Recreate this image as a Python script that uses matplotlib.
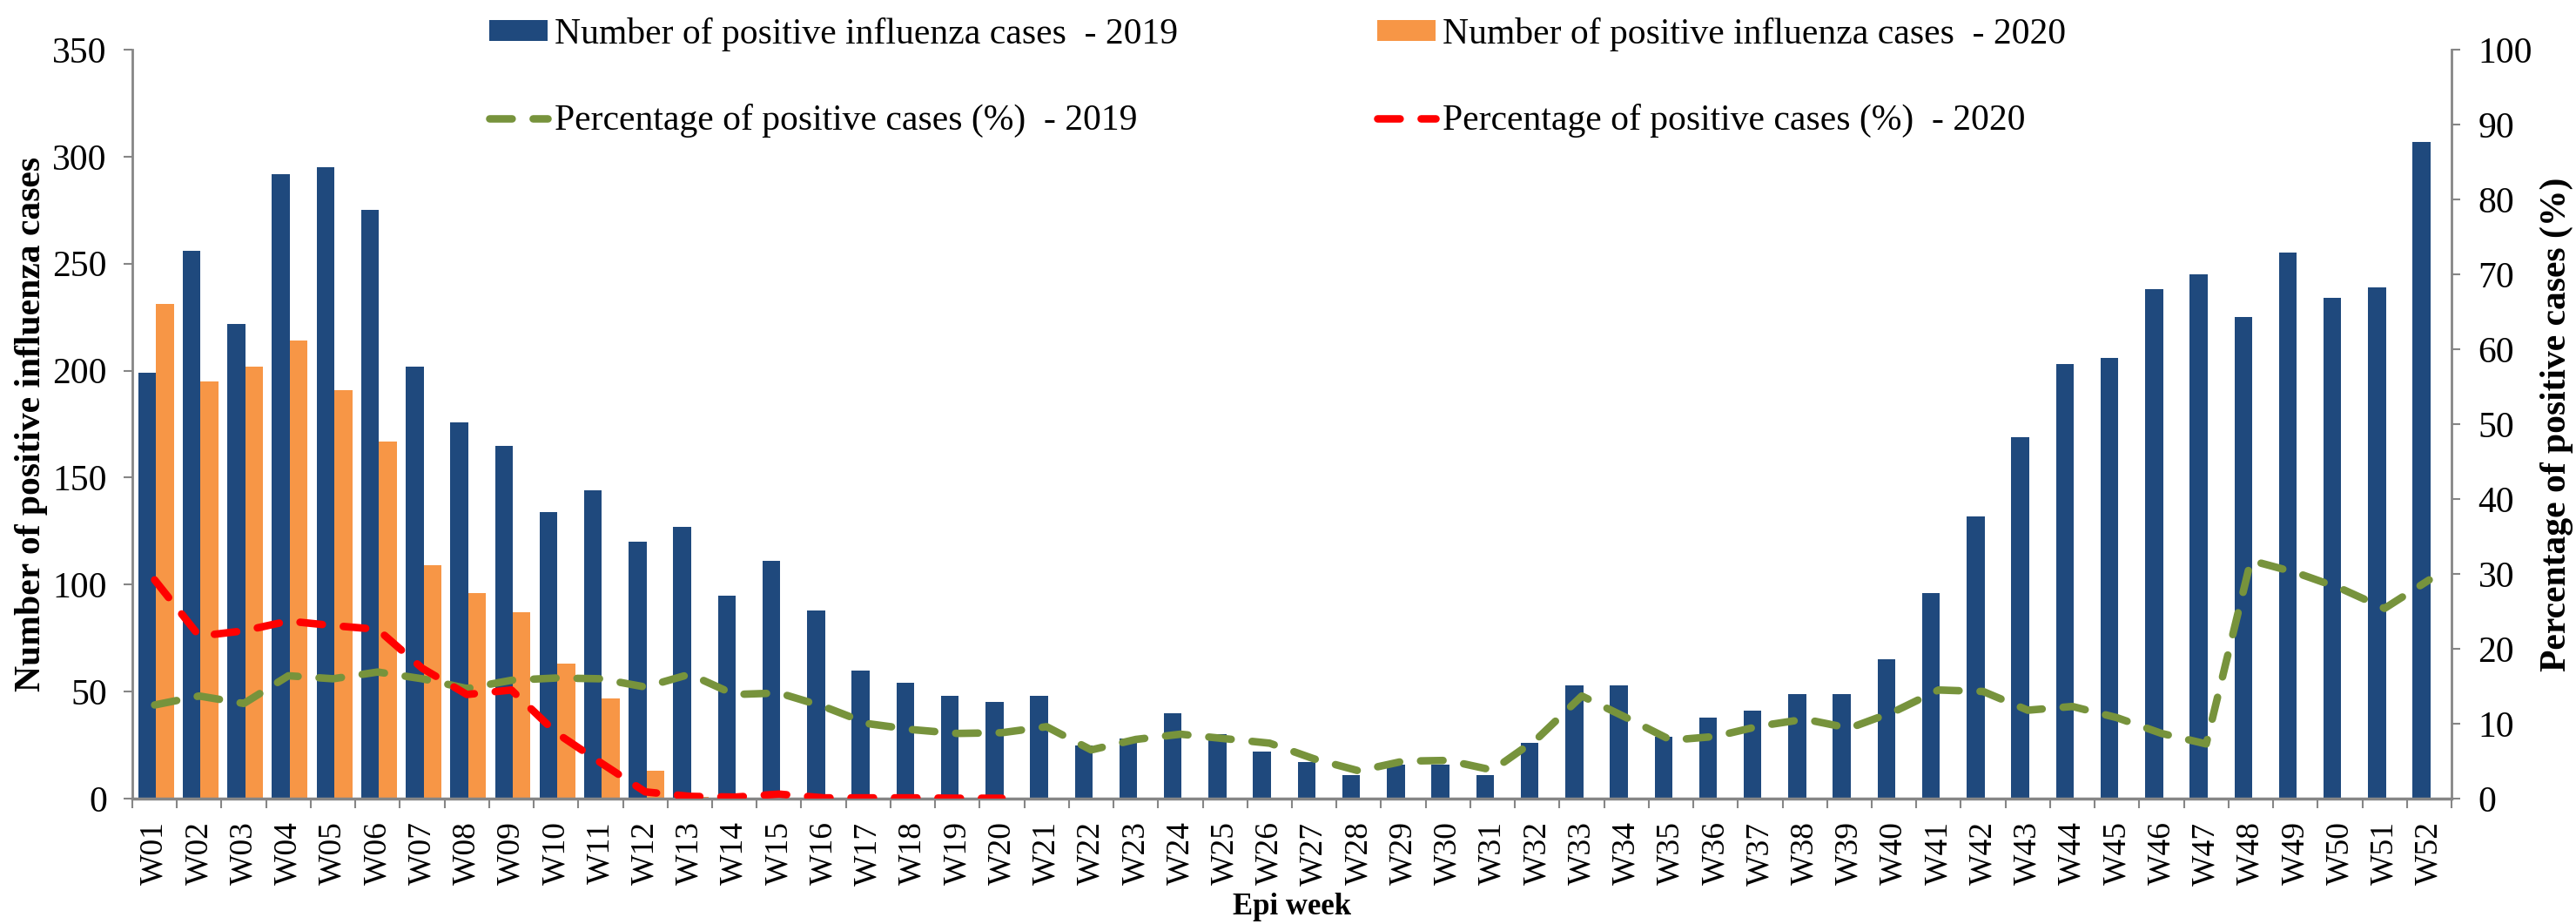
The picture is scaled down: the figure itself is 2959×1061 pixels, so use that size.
import matplotlib
matplotlib.use("Agg")
import matplotlib.pyplot as plt
import numpy as np

weeks = ["W01","W02","W03","W04","W05","W06","W07","W08","W09","W10",
         "W11","W12","W13","W14","W15","W16","W17","W18","W19","W20",
         "W21","W22","W23","W24","W25","W26","W27","W28","W29","W30",
         "W31","W32","W33","W34","W35","W36","W37","W38","W39","W40",
         "W41","W42","W43","W44","W45","W46","W47","W48","W49","W50",
         "W51","W52"]

cases_2019 = [199,256,222,292,295,275,202,176,165,134,
              144,120,127,95,111,88,60,54,48,45,
              48,25,28,40,30,22,17,11,16,16,
              11,26,53,53,29,38,41,49,49,65,
              96,132,169,203,206,238,245,225,255,234,
              239,307]

cases_2020 = [231,195,202,214,191,167,109,96,87,63,
              47,13,1,0,0,0,0,0,0,0]

pct_2019 = [12.5,13.7,12.7,16.4,16.0,16.9,16.0,14.7,15.8,16.1,
            16.0,14.9,16.6,13.9,14.1,12.3,10.0,9.2,8.7,8.8,
            9.6,6.5,7.9,8.6,8.0,7.4,5.3,3.7,5.0,5.1,
            3.8,8.0,13.7,10.8,7.8,8.3,9.7,10.6,9.4,11.6,
            14.5,14.3,11.8,12.3,10.8,8.7,7.3,31.8,30.2,28.1,
            25.4,29.2]

pct_2020 = [29.2,21.7,22.4,23.7,23.1,22.6,17.4,13.9,14.5,8.8,
            4.8,0.9,0.3,0.2,0.6,0.1,0.1,0.1,0.05,0.05]

label_b19 = "Number of positive influenza cases  - 2019"
label_b20 = "Number of positive influenza cases  - 2020"
label_l19 = "Percentage of positive cases (%)  - 2019"
label_l20 = "Percentage of positive cases (%)  - 2020"

BLUE = "#1F497D"
ORANGE = "#F79646"
GREEN = "#77933C"
RED = "#FF0000"
GRAY = "#868686"
FONT = "Liberation Serif"

W, H = 2959, 1061
fig = plt.figure(figsize=(W/100, H/100), dpi=100)
L, R, T, B = 152, 2816, 57, 917
ax = fig.add_axes([L/W, 1-B/H, (R-L)/W, (B-T)/H])
ax2 = ax.twinx()

x19 = np.arange(len(cases_2019))
x20 = np.arange(len(cases_2020))
bw = 0.4
b19 = ax.bar(x19 - 0.17, cases_2019, width=bw, color=BLUE, label=label_b19, zorder=2)
b20 = ax.bar(x20 + 0.23, cases_2020, width=bw, color=ORANGE, label=label_b20, zorder=2)

lw = 6.2
dash = (3.0, 2.8)
l19, = ax2.plot(np.arange(len(pct_2019)), pct_2019, color=GREEN, lw=lw,
                dashes=dash, dash_capstyle="round", label=label_l19)
l20, = ax2.plot(np.arange(len(pct_2020)), pct_2020, color=RED, lw=lw,
                dashes=dash, dash_capstyle="round", label=label_l20)

ax.set_xlim(-0.5, len(weeks) - 0.5)
ax.set_ylim(0, 350)
ax2.set_ylim(0, 100)
ax.set_yticks(np.arange(0, 351, 50))
ax2.set_yticks(np.arange(0, 101, 10))

ax.set_xticks(np.arange(len(weeks)))
ax.set_xticklabels(weeks, rotation=90, fontfamily=FONT, fontsize=27)
ax.set_xticks(np.arange(len(weeks) + 1) - 0.5, minor=True)
ax.tick_params(axis="x", which="major", length=0, pad=19)
ax.tick_params(axis="x", which="minor", length=8, width=1.5, color=GRAY)

for a in (ax, ax2):
    for s in a.spines.values():
        s.set_visible(False)
ax.spines["left"].set_visible(True)
ax.spines["left"].set_color(GRAY)
ax.spines["left"].set_linewidth(2)
ax.spines["bottom"].set_visible(True)
ax.spines["bottom"].set_color(GRAY)
ax.spines["bottom"].set_linewidth(2.5)
ax2.spines["right"].set_visible(True)
ax2.spines["right"].set_color(GRAY)
ax2.spines["right"].set_linewidth(2)

ax.tick_params(axis="y", length=7, width=1.5, color=GRAY, pad=14, labelsize=30)
ax2.tick_params(axis="y", length=7, width=1.5, color=GRAY, pad=15, labelsize=30)
for lab in ax.get_yticklabels() + ax2.get_yticklabels():
    lab.set_fontfamily(FONT)

ax.set_ylabel("Number of positive influenza cases", fontfamily=FONT,
              fontweight="bold", fontsize=30)
ax.yaxis.set_label_coords((36 - L) / (R - L), 0.5)
ax.yaxis.label.set_va("center")
ax2.set_ylabel("Percentage of positive cases (%)", fontfamily=FONT,
               fontweight="bold", fontsize=30, rotation=90)
ax2.yaxis.set_label_coords((2937 - L) / (R - L), 0.5)
ax2.yaxis.label.set_va("center")
ax.set_xlabel("Epi week", fontfamily=FONT, fontweight="bold", fontsize=25)
ax.xaxis.set_label_coords(0.5, -(1042 - B) / (B - T))
ax.xaxis.label.set_va("center")

leg = fig.legend([b19, l19, b20, l20], [label_b19, label_l19, label_b20, label_l20],
                 ncol=2, loc="upper left", bbox_to_anchor=(562/W, 1 - 20/H),
                 frameon=False, prop={"family": FONT, "size": 30},
                 handlelength=1.6, handleheight=0.5, handletextpad=0.2,
                 columnspacing=5.5, labelspacing=1.45, borderpad=0, borderaxespad=0)

fig.savefig("out.png", dpi=100)
